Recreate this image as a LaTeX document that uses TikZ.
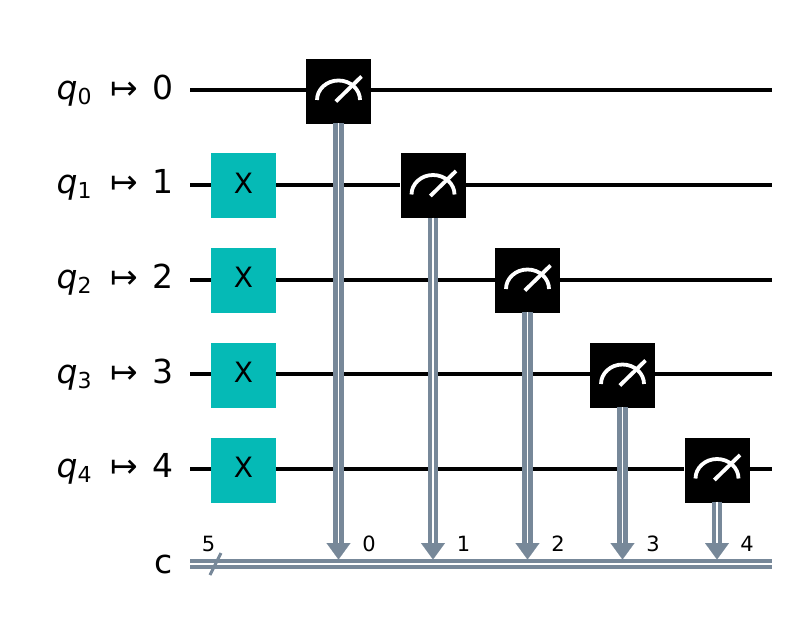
\documentclass[tikz,border=0pt]{standalone}
\usepackage{xcolor}
\usepackage{fontspec}
\setmainfont{DejaVu Sans}
\usepackage{tikz}
\usetikzlibrary{arrows.meta, positioning}
\definecolor{gateteal}{HTML}{05BAB6}
\definecolor{clbitgray}{HTML}{778899}
\newcommand{\qmap}[2]{{\itshape q}\raisebox{-5pt}{\fontsize{22}{22}\selectfont #1}\hspace{18.5pt}↦\hspace{15pt}#2}

\begin{document}
\begin{tikzpicture}[
  x=1pt, y=-1pt,
  xgate/.style={rectangle, fill=gateteal, minimum size=65pt, inner sep=0pt, font=\fontsize{28}{28}\selectfont},
  meter/.style={rectangle, fill=black, minimum size=65pt, inner sep=0pt, path picture={
    \draw[white, line width=3.8pt] ([xshift=-21.5pt, yshift=-8.5pt]path picture bounding box.center) arc[start angle=180, end angle=0, x radius=21.5pt, y radius=19.5pt];
    \draw[white, line width=3.8pt] ([xshift=-2.7pt, yshift=-10pt]path picture bounding box.center) -- ([xshift=23pt, yshift=15pt]path picture bounding box.center);
  }},
  qlabel/.style={anchor=base east, inner sep=0pt, font=\fontsize{33}{33}\selectfont},
  clabel/.style={anchor=base, inner sep=0pt, font=\fontsize{21}{21}\selectfont},
  qwire/.style={draw=black, line width=4pt},
  cwire/.style={draw=clbitgray, line width=4.2pt, double=white, double distance=1.9pt},
  cstem/.style={-{Triangle[length=16.5pt, width=24pt]}, draw=clbitgray, fill=clbitgray, line width=0.1pt}
]
  \useasboundingbox (0,0) rectangle (794,636);

  \node[qlabel] (l0) at (174,99.3) {\qmap{0}{0}};
  \node[qlabel] (l1) at (174,193.9) {\qmap{1}{1}};
  \node[qlabel] (l2) at (174,288.5) {\qmap{2}{2}};
  \node[qlabel] (l3) at (174,383.1) {\qmap{3}{3}};
  \node[qlabel] (l4) at (174,477.7) {\qmap{4}{4}};
  \node[anchor=base, inner sep=0pt, font=\fontsize{33}{33}\selectfont] (lc) at (164,573) {c};

  \coordinate (s0) at (190,90.5);
  \coordinate (s1) at (190,185);
  \coordinate (s2) at (190,279.5);
  \coordinate (s3) at (190,374.3);
  \coordinate (s4) at (190,468.8);
  \coordinate (e0) at (772,90.5);
  \coordinate (e1) at (772,185);
  \coordinate (e2) at (772,279.5);
  \coordinate (e3) at (772,374.3);
  \coordinate (e4) at (772,468.8);
  \coordinate (cs) at (190,564);
  \coordinate (ce) at (772,564);

  \node[xgate] (x1) at (243.5,186) {\raisebox{6pt}{X}};
  \node[xgate] (x2) at (243.5,280.5) {\raisebox{6pt}{X}};
  \node[xgate] (x3) at (243.5,375.5) {\raisebox{6pt}{X}};
  \node[xgate] (x4) at (243.5,470) {\raisebox{6pt}{X}};

  \node[meter] (m0) at (338.5,91.5) {};
  \node[meter] (m1) at (433,186) {};
  \node[meter] (m2) at (527.5,280.5) {};
  \node[meter] (m3) at (622.5,375.5) {};
  \node[meter] (m4) at (717,470) {};

  \draw[qwire] (s0) -- (s0 -| m0.west) (s0 -| m0.east) -- (e0);
  \draw[qwire] (s1) -- (s1 -| x1.west) (s1 -| x1.east) -- (s1 -| m1.west) (s1 -| m1.east) -- (e1);
  \draw[qwire] (s2) -- (s2 -| x2.west) (s2 -| x2.east) -- (s2 -| m2.west) (s2 -| m2.east) -- (e2);
  \draw[qwire] (s3) -- (s3 -| x3.west) (s3 -| x3.east) -- (s3 -| m3.west) (s3 -| m3.east) -- (e3);
  \draw[qwire] (s4) -- (s4 -| x4.west) (s4 -| x4.east) -- (s4 -| m4.west) (s4 -| m4.east) -- (e4);

  \coordinate (t0) at (338.5,543);
  \coordinate (t1) at (433,543);
  \coordinate (t2) at (527.5,543);
  \coordinate (t3) at (622.5,543);
  \coordinate (t4) at (717,543);
  \coordinate (b0) at (338.5,559.5);
  \coordinate (b1) at (433,559.5);
  \coordinate (b2) at (527.5,559.5);
  \coordinate (b3) at (622.5,559.5);
  \coordinate (b4) at (717,559.5);

  \draw[cwire, shorten <=-1pt] (m0) -- (t0);
  \draw[cwire, shorten <=-1pt] (m1) -- (t1);
  \draw[cwire, shorten <=-1pt] (m2) -- (t2);
  \draw[cwire, shorten <=-1pt] (m3) -- (t3);
  \draw[cwire, shorten <=-1pt] (m4) -- (t4);
  \draw[cwire] (cs) -- (ce);
  \draw[cstem] (t0) -- (b0);
  \draw[cstem] (t1) -- (b1);
  \draw[cstem] (t2) -- (b2);
  \draw[cstem] (t3) -- (b3);
  \draw[cstem] (t4) -- (b4);

  % register size mark
  \coordinate (sa) at (210,575);
  \coordinate (sb) at (221,553);
  \draw[draw=clbitgray, line width=3pt] (sa) -- (sb);
  \node[clabel] (n5) at (208.5,551) {5};

  \node[clabel] (c0) at (369,551) {0};
  \node[clabel] (c1) at (463.5,551) {1};
  \node[clabel] (c2) at (558,551) {2};
  \node[clabel] (c3) at (653,551) {3};
  \node[clabel] (c4) at (747,551) {4};
\end{tikzpicture}
\end{document}
